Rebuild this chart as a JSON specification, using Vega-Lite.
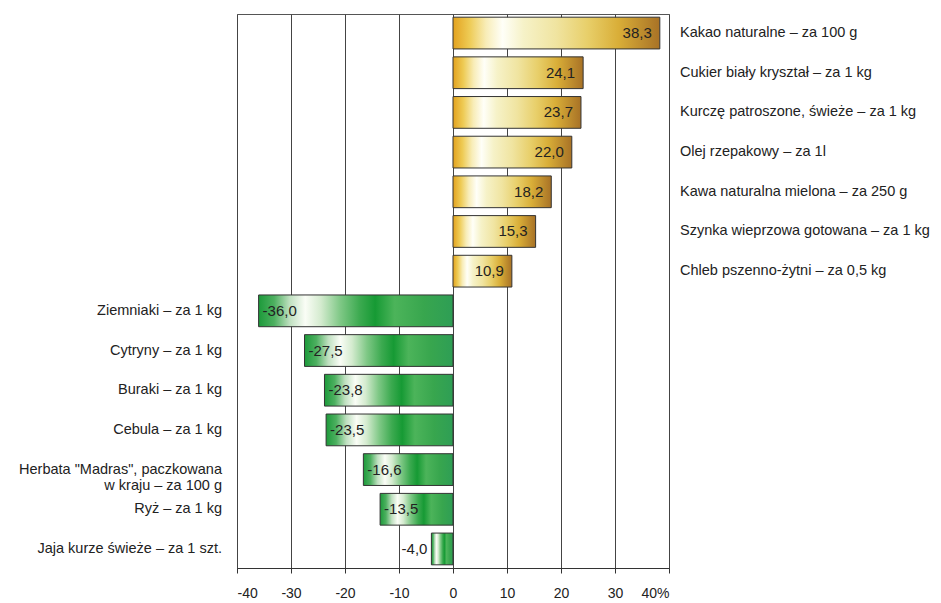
{
  "$schema": "https://vega.github.io/schema/vega-lite/v6.json",
  "autosize": {"type": "none"},
  "padding": {"left": 237, "top": 14, "right": 272, "bottom": 35},
  "width": 432,
  "height": 554,
  "background": "white",
  "data": {"values": [
    {"r": 1, "name": "Kakao naturalne – za 100 g", "v": 38.3},
    {"r": 2, "name": "Cukier biały kryształ – za 1 kg", "v": 24.1},
    {"r": 3, "name": "Kurczę patroszone, świeże – za 1 kg", "v": 23.7},
    {"r": 4, "name": "Olej rzepakowy – za 1l", "v": 22.0},
    {"r": 5, "name": "Kawa naturalna  mielona – za 250 g", "v": 18.2},
    {"r": 6, "name": "Szynka wieprzowa gotowana – za 1 kg", "v": 15.3},
    {"r": 7, "name": "Chleb pszenno-żytni – za 0,5 kg", "v": 10.9},
    {"r": 8, "name": "Ziemniaki – za 1 kg", "v": -36.0},
    {"r": 9, "name": "Cytryny – za 1 kg", "v": -27.5},
    {"r": 10, "name": "Buraki – za 1 kg", "v": -23.8},
    {"r": 11, "name": "Cebula – za 1 kg", "v": -23.5},
    {"r": 12, "name": "Herbata \"Madras\", paczkowana\nw kraju – za 100 g", "v": -16.6},
    {"r": 13, "name": "Ryż – za 1 kg", "v": -13.5},
    {"r": 14, "name": "Jaja kurze świeże – za 1 szt.", "v": -4.0}
  ]},
  "encoding": {
    "y": {"field": "name", "type": "nominal", "sort": {"field": "r", "op": "min"}, "axis": null,
          "scale": {"paddingInner": 0.2, "paddingOuter": 0.08}},
    "x": {"field": "v", "type": "quantitative",
          "scale": {"domain": [-40, 40], "nice": false, "zero": false},
          "axis": {"values": [-40, -30, -20, -10, 0, 10, 20, 30, 40], "title": null, "grid": true,
                   "labelExpr": "datum.value == 40 ? '40%' : datum.label"}}
  },
  "layer": [
    {
      "transform": [{"filter": "datum.v > 0"}],
      "mark": {"type": "bar", "stroke": "#333", "strokeWidth": 1,
        "fill": {"gradient": "linear", "x1": 0, "x2": 1, "y1": 0, "y2": 0, "stops": [
          {"offset": 0, "color": "#E3A21E"},
          {"offset": 0.08, "color": "#EECB55"},
          {"offset": 0.16, "color": "#F8EDB8"},
          {"offset": 0.24, "color": "#FFFFF8"},
          {"offset": 0.34, "color": "#F6F2C8"},
          {"offset": 0.5, "color": "#F0E4A0"},
          {"offset": 0.65, "color": "#E8CF6A"},
          {"offset": 0.8, "color": "#D9AE38"},
          {"offset": 1, "color": "#A87226"}
        ]}}
    },
    {
      "transform": [{"filter": "datum.v < 0"}],
      "mark": {"type": "bar", "stroke": "#333", "strokeWidth": 1,
        "fill": {"gradient": "linear", "x1": 0, "x2": 1, "y1": 0, "y2": 0, "stops": [
          {"offset": 0, "color": "#1C9A3A"},
          {"offset": 0.08, "color": "#4DB060"},
          {"offset": 0.16, "color": "#BFE0C0"},
          {"offset": 0.24, "color": "#FAFDF6"},
          {"offset": 0.32, "color": "#D4EBCF"},
          {"offset": 0.42, "color": "#7FC886"},
          {"offset": 0.52, "color": "#3CAA50"},
          {"offset": 0.6, "color": "#169A34"},
          {"offset": 0.7, "color": "#4CB45A"},
          {"offset": 0.85, "color": "#38A64E"},
          {"offset": 1, "color": "#2E9E55"}
        ]}}
    },
    {
      "transform": [{"filter": "datum.v > 0"}],
      "mark": {"type": "text", "align": "right", "baseline": "middle", "dx": -8, "fontSize": 15, "font": "Liberation Sans", "color": "#222"},
      "encoding": {"text": {"field": "v", "type": "quantitative", "format": ".1f"}}
    },
    {
      "transform": [{"filter": "datum.v < -5"}],
      "mark": {"type": "text", "align": "left", "baseline": "middle", "dx": 4, "fontSize": 15, "font": "Liberation Sans", "color": "#222"},
      "encoding": {"text": {"field": "v", "type": "quantitative", "format": ".1f"}}
    },
    {
      "transform": [{"filter": "datum.v < 0 && datum.v >= -5"}],
      "mark": {"type": "text", "align": "right", "baseline": "middle", "dx": -4, "fontSize": 15, "font": "Liberation Sans", "color": "#222"},
      "encoding": {"text": {"field": "v", "type": "quantitative", "format": ".1f"}}
    },
    {
      "transform": [{"filter": "datum.v > 0"}],
      "mark": {"type": "text", "align": "left", "baseline": "middle", "dx": 11, "fontSize": 14.5, "font": "Liberation Sans", "color": "#222", "lineBreak": "\n"},
      "encoding": {"x": {"datum": 40}, "text": {"field": "name", "type": "nominal"}}
    },
    {
      "transform": [{"filter": "datum.v < 0"}],
      "mark": {"type": "text", "align": "right", "baseline": "middle", "dx": -15, "fontSize": 14.5, "font": "Liberation Sans", "color": "#222", "lineBreak": "\n"},
      "encoding": {"x": {"datum": -40}, "text": {"field": "name", "type": "nominal"}}
    }
  ],
  "config": {
    "locale": {"number": {"decimal": ",", "thousands": " ", "grouping": [3], "currency": ["", ""], "minus": "-"}},
    "view": {"stroke": "#555", "strokeWidth": 1},
    "axis": {"gridColor": "#444", "gridWidth": 1, "domainColor": "#333", "tickColor": "#333", "tickSize": 5,
             "labelFont": "Liberation Sans", "labelFontSize": 14, "labelColor": "#222", "labelPadding": 13}
  }
}
